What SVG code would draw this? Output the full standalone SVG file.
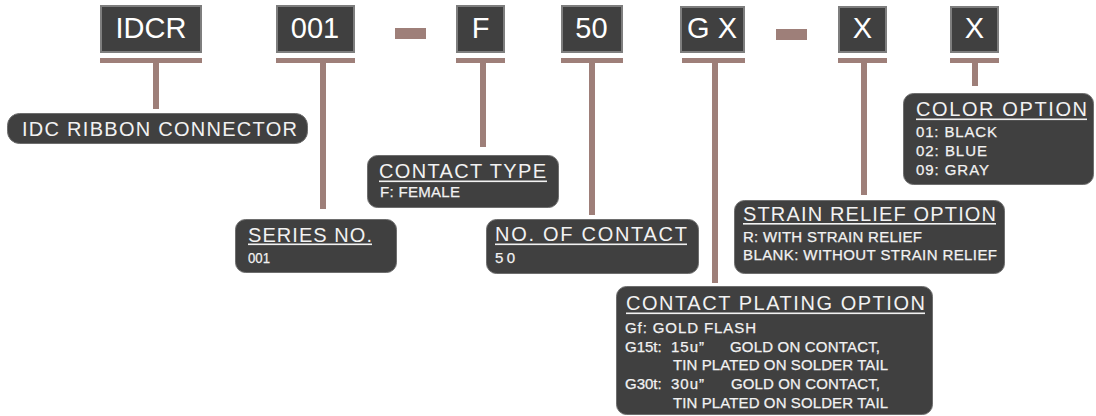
<svg xmlns="http://www.w3.org/2000/svg" width="1096" height="416" viewBox="0 0 1096 416">
<style>
.code rect{fill:#404040;stroke:#7e7e7e;stroke-width:2}
.code text{font-family:"Liberation Sans",Arial,sans-serif;font-size:29px;fill:#ffffff;text-anchor:middle}
.lbl rect.bg{fill:#404040;stroke:#6e6e6e;stroke-width:1}
.hd{font-family:"Liberation Sans",Arial,sans-serif;font-size:20px;fill:#f2f2f2}
.bd{font-family:"Liberation Sans",Arial,sans-serif;font-size:15px;fill:#f2f2f2;stroke:#f2f2f2;stroke-width:0.25}
.ul{fill:#f2f2f2}
.con rect{fill:#9e7f79}
</style>
<rect width="1096" height="416" fill="#ffffff"/>
<g id="connectors" class="con">
<rect x="100" y="58" width="102" height="5"/><rect x="153" y="63" width="6" height="46"/>
<rect x="276" y="58" width="79" height="5"/><rect x="320" y="63" width="6" height="146"/>
<rect x="456" y="58" width="49" height="5"/><rect x="480" y="63" width="6" height="84"/>
<rect x="561" y="58" width="62" height="5"/><rect x="589" y="63" width="6" height="152"/>
<rect x="682" y="58" width="63" height="5"/><rect x="712" y="63" width="6" height="220"/>
<rect x="838" y="58" width="49" height="5"/><rect x="861" y="63" width="6" height="132"/>
<rect x="950" y="58" width="49" height="5"/><rect x="972" y="63" width="6" height="23"/>
<rect x="395" y="28" width="31" height="11"/>
<rect x="776" y="29" width="31" height="11"/>
</g>
<g id="code-idcr" class="code"><rect x="101" y="6" width="100" height="46"/><text x="151" y="38">IDCR</text></g>
<g id="code-001" class="code"><rect x="277" y="6" width="77" height="46"/><text x="315" y="38">001</text></g>
<g id="code-f" class="code"><rect x="457" y="6" width="47" height="46"/><text x="480.5" y="38">F</text></g>
<g id="code-50" class="code"><rect x="562" y="6" width="60" height="46"/><text x="591.5" y="38">50</text></g>
<g id="code-gx" class="code"><rect x="681" y="7" width="63" height="45"/><text x="712" y="38">G X</text></g>
<g id="code-x1" class="code"><rect x="839" y="7" width="47" height="45"/><text x="862.5" y="38">X</text></g>
<g id="code-x2" class="code"><rect x="951" y="7" width="47" height="45"/><text x="974.5" y="38">X</text></g>

<g id="lbl-idc" class="lbl"><rect class="bg" x="7.5" y="113.5" width="300" height="30" rx="12"/>
<text class="hd" x="22" y="136" font-size="19" textLength="275" lengthAdjust="spacing">IDC RIBBON CONNECTOR</text></g>

<g id="lbl-contact-type" class="lbl"><rect class="bg" x="367.5" y="155.5" width="191" height="52" rx="10"/>
<text class="hd" x="379" y="178" textLength="167" lengthAdjust="spacing">CONTACT TYPE</text><rect class="ul" x="379" y="180.5" width="168" height="1.6"/>
<text class="bd" x="380" y="197" textLength="80" lengthAdjust="spacing">F: FEMALE</text></g>

<g id="lbl-series" class="lbl"><rect class="bg" x="235.5" y="219.5" width="161" height="53" rx="10"/>
<text class="hd" x="248" y="242" textLength="124" lengthAdjust="spacing">SERIES NO.</text><rect class="ul" x="248" y="243.5" width="124" height="1.6"/>
<text class="bd" x="248" y="263" textLength="22" lengthAdjust="spacingAndGlyphs">001</text></g>

<g id="lbl-no-contact" class="lbl"><rect class="bg" x="486.5" y="219.5" width="212" height="54" rx="10"/>
<text class="hd" x="495" y="241" textLength="192" lengthAdjust="spacing">NO. OF CONTACT</text><rect class="ul" x="495" y="243.5" width="192" height="1.6"/>
<text class="bd" x="495" y="263" textLength="20" lengthAdjust="spacing">50</text></g>

<g id="lbl-plating" class="lbl"><rect class="bg" x="616.5" y="286.5" width="316" height="128" rx="10"/>
<text class="hd" x="626" y="310" textLength="299" lengthAdjust="spacing">CONTACT PLATING OPTION</text><rect class="ul" x="626" y="312.5" width="299" height="1.6"/>
<text class="bd" x="625" y="333" textLength="131" lengthAdjust="spacing">Gf: GOLD FLASH</text>
<text class="bd" x="625" y="352">G15t:</text>
<text class="bd" x="671" y="352" letter-spacing="1">15u”</text>
<text class="bd" x="730" y="352" textLength="150" lengthAdjust="spacing">GOLD ON CONTACT,</text>
<text class="bd" x="673" y="370" textLength="215" lengthAdjust="spacing">TIN PLATED ON SOLDER TAIL</text>
<text class="bd" x="625" y="389">G30t:</text>
<text class="bd" x="671" y="389" letter-spacing="1">30u”</text>
<text class="bd" x="731" y="389" textLength="149" lengthAdjust="spacing">GOLD ON CONTACT,</text>
<text class="bd" x="673" y="408" textLength="215" lengthAdjust="spacing">TIN PLATED ON SOLDER TAIL</text></g>

<g id="lbl-strain" class="lbl"><rect class="bg" x="734.5" y="200.5" width="270" height="73" rx="10"/>
<text class="hd" x="743" y="221" textLength="253" lengthAdjust="spacing">STRAIN RELIEF OPTION</text><rect class="ul" x="743" y="223" width="253" height="1.6"/>
<text class="bd" x="743" y="242" textLength="179" lengthAdjust="spacing">R: WITH STRAIN RELIEF</text>
<text class="bd" x="743" y="260" textLength="254" lengthAdjust="spacing">BLANK: WITHOUT STRAIN RELIEF</text></g>

<g id="lbl-color" class="lbl"><rect class="bg" x="903.5" y="93.5" width="190" height="91" rx="10"/>
<text class="hd" x="916" y="116" textLength="171" lengthAdjust="spacing">COLOR OPTION</text><rect class="ul" x="916" y="118.5" width="171" height="1.6"/>
<text class="bd" x="916" y="137" textLength="81" lengthAdjust="spacing">01: BLACK</text>
<text class="bd" x="916" y="156" textLength="71" lengthAdjust="spacing">02: BLUE</text>
<text class="bd" x="916" y="175" textLength="73" lengthAdjust="spacing">09: GRAY</text></g>
</svg>
